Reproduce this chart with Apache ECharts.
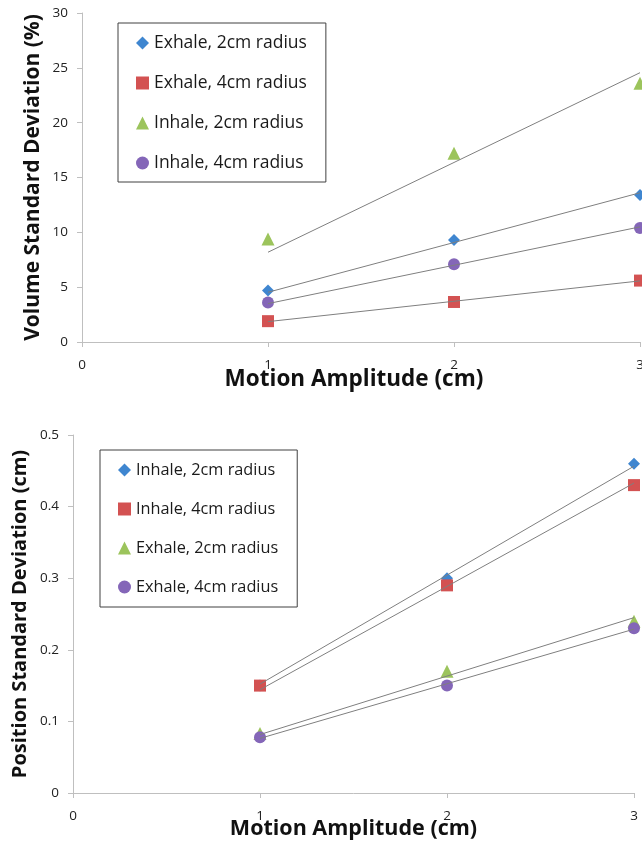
<!DOCTYPE html>
<html>
<head>
<meta charset="utf-8">
<script src="https://cdn.jsdelivr.net/npm/echarts@6/dist/echarts.min.js"></script>
<style>
  html, body { margin: 0; padding: 0; background: #fff; }
  #top { position: absolute; left: 0; top: 0; width: 642px; height: 410px; }
  #bottom { position: absolute; left: 0; top: 410px; width: 642px; height: 436px; }
</style>
</head>
<body>
<div id="top"></div>
<div id="bottom"></div>
<script>
// motion amplitude (cm)
const amplitude = [1, 2, 3];

// volume standard deviation (%)
const volExhale2 = [4.7, 9.3, 13.4];
const volExhale4 = [1.9, 3.65, 5.6];
const volInhale2 = [9.4, 17.2, 23.6];
const volInhale4 = [3.6, 7.1, 10.4];

// position standard deviation (cm)
const posInhale2 = [0.15, 0.30, 0.46];
const posInhale4 = [0.15, 0.29, 0.43];
const posExhale2 = [0.083, 0.17, 0.24];
const posExhale4 = [0.078, 0.15, 0.23];

const FONT = "'Open Sans', 'DejaVu Sans', sans-serif";
const BLUE = "#3f86d0", RED = "#d35252", GREEN = "#9cc45c", PURPLE = "#8466b8";

function pts(ys) {
  return amplitude.map((x, i) => [x, ys[i]]);
}

// linear trendline forced through the origin (as in the source spreadsheet)
function trend(ys) {
  let sxy = 0, sxx = 0;
  amplitude.forEach((x, i) => { sxy += x * ys[i]; sxx += x * x; });
  const k = sxy / sxx;
  const x0 = amplitude[0], x1 = amplitude[amplitude.length - 1];
  return [[x0, k * x0], [x1, k * x1]];
}

function scatter(name, ys, symbol, color, size) {
  return {
    name: name, type: "scatter", data: pts(ys), symbol: symbol,
    symbolSize: size, itemStyle: { color: color, opacity: 1 }, z: 2,
  };
}

function trendLine(ys) {
  return {
    type: "line", data: trend(ys), showSymbol: false, silent: true, z: 3,
    lineStyle: { color: "#7f7f7f", width: 1 },
  };
}

function axisX(gap, size, pad) {
  return {
    type: "value", min: 0, max: 3, interval: 1,
    name: "Motion Amplitude (cm)", nameLocation: "middle", nameGap: gap,
    nameMoveOverlap: false,
    nameTextStyle: { fontFamily: FONT, fontWeight: "bold", fontSize: size, color: "#111", padding: pad },
    axisLine: { lineStyle: { color: "#bfbfbf" } },
    axisTick: { show: true, length: 5, lineStyle: { color: "#bfbfbf" } },
    axisLabel: { fontFamily: FONT, fontSize: 13.5, color: "#222", margin: 16 },
    splitLine: { show: false },
  };
}

function axisY(name, min, max, interval, gap, size) {
  return {
    type: "value", min: min, max: max, interval: interval,
    name: name, nameLocation: "middle", nameGap: gap,
    nameMoveOverlap: false,
    nameTextStyle: { fontFamily: FONT, fontWeight: "bold", fontSize: size, color: "#111" },
    axisLine: { show: true, lineStyle: { color: "#bfbfbf" } },
    axisTick: { show: true, length: 5, lineStyle: { color: "#bfbfbf" } },
    axisLabel: { fontFamily: FONT, fontSize: 13.5, color: "#222", margin: 14 },
    splitLine: { show: false },
  };
}

function legend(left, top, items, fontSize, gap, pad) {
  return {
    left: left, top: top, orient: "vertical",
    itemWidth: 13, itemHeight: 13, itemGap: gap,
    padding: pad,
    borderColor: "#404040", borderWidth: 1,
    textStyle: { fontFamily: FONT, fontSize: fontSize, color: "#1a1a1a" },
    data: items,
  };
}

const topChart = echarts.init(document.getElementById("top"));
topChart.setOption({
  animation: false,
  grid: { left: 82, right: 2, top: 13, height: 329, outerBoundsMode: "none" },
  xAxis: axisX(26, 22.5, [0, 14, 0, 0]),
  yAxis: axisY("Volume Standard Deviation (%)", 0, 30, 5, 38, 21),
  legend: legend(118, 23, [
    { name: "Exhale, 2cm radius", icon: "diamond" },
    { name: "Exhale, 4cm radius", icon: "rect" },
    { name: "Inhale, 2cm radius", icon: "triangle" },
    { name: "Inhale, 4cm radius", icon: "circle" },
  ], 17.5, 22, [11, 19, 10, 18]),
  series: [
    scatter("Exhale, 2cm radius", volExhale2, "diamond", BLUE, 12),
    scatter("Exhale, 4cm radius", volExhale4, "rect", RED, 12),
    scatter("Inhale, 2cm radius", volInhale2, "triangle", GREEN, 13),
    scatter("Inhale, 4cm radius", volInhale4, "circle", PURPLE, 12),
    trendLine(volExhale2),
    trendLine(volExhale4),
    trendLine(volInhale2),
    trendLine(volInhale4),
  ],
});

const bottomChart = echarts.init(document.getElementById("bottom"));
bottomChart.setOption({
  animation: false,
  grid: { left: 73, right: 8, top: 25, height: 358, outerBoundsMode: "none" },
  xAxis: axisX(25, 21.5, 0),
  yAxis: axisY("Position Standard Deviation (cm)", 0, 0.5, 0.1, 43, 20),
  legend: legend(100, 40, [
    { name: "Inhale, 2cm radius", icon: "diamond" },
    { name: "Inhale, 4cm radius", icon: "rect" },
    { name: "Exhale, 2cm radius", icon: "triangle" },
    { name: "Exhale, 4cm radius", icon: "circle" },
  ], 16.3, 23, [12, 19, 12, 18]),
  series: [
    scatter("Inhale, 2cm radius", posInhale2, "diamond", BLUE, 12),
    scatter("Inhale, 4cm radius", posInhale4, "rect", RED, 12),
    scatter("Exhale, 2cm radius", posExhale2, "triangle", GREEN, 13),
    scatter("Exhale, 4cm radius", posExhale4, "circle", PURPLE, 12),
    trendLine(posInhale2),
    trendLine(posInhale4),
    trendLine(posExhale2),
    trendLine(posExhale4),
  ],
});
</script>
</body>
</html>
